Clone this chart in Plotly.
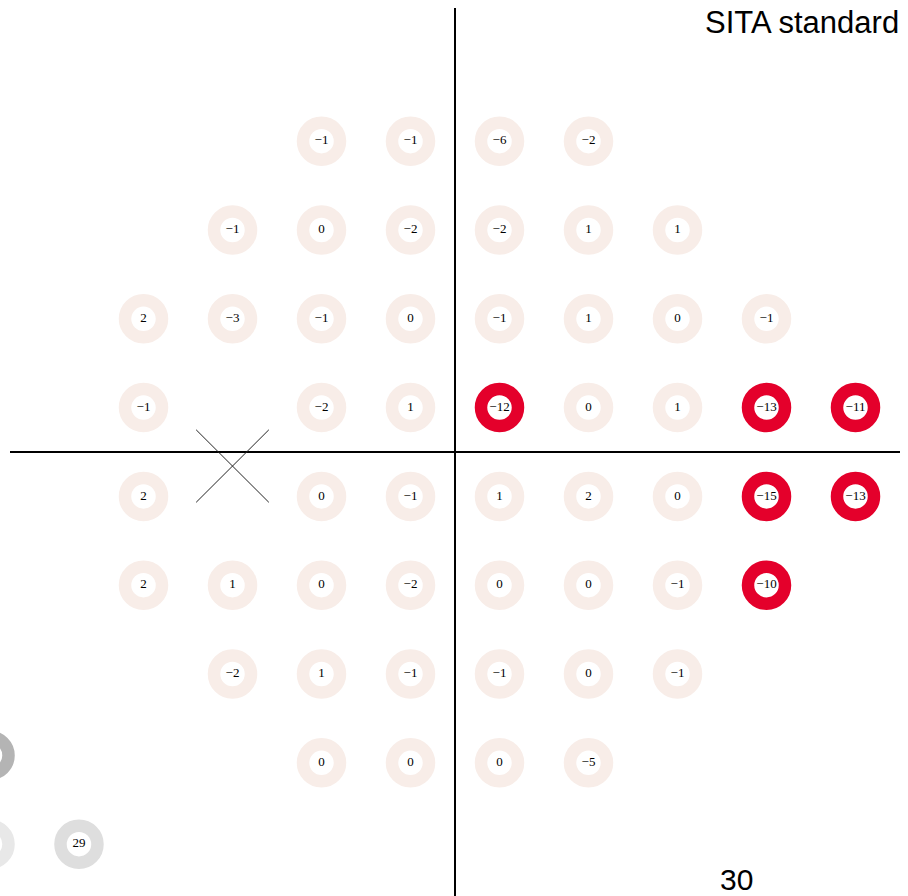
import plotly.graph_objects as go

# Visual field locations (degrees) and total deviation values
xs = [-9, -3, 3, 9,
      -15, -9, -3, 3, 9, 15,
      -21, -15, -9, -3, 3, 9, 15, 21,
      -21, -9, -3, 3, 9, 15, 21, 27,
      -21, -9, -3, 3, 9, 15, 21, 27,
      -21, -15, -9, -3, 3, 9, 15, 21,
      -15, -9, -3, 3, 9, 15,
      -9, -3, 3, 9]
ys = [21, 21, 21, 21,
      15, 15, 15, 15, 15, 15,
      9, 9, 9, 9, 9, 9, 9, 9,
      3, 3, 3, 3, 3, 3, 3, 3,
      -3, -3, -3, -3, -3, -3, -3, -3,
      -9, -9, -9, -9, -9, -9, -9, -9,
      -15, -15, -15, -15, -15, -15,
      -21, -21, -21, -21]
values = [-1, -1, -6, -2,
          -1, 0, -2, -2, 1, 1,
          2, -3, -1, 0, -1, 1, 0, -1,
          -1, -2, 1, -12, 0, 1, -13, -11,
          2, 0, -1, 1, 2, 0, -15, -13,
          2, 1, 0, -2, 0, 0, -1, -10,
          -2, 1, -1, -1, 0, -1,
          0, 0, 0, -5]

# Legend (grey-scale) circles, partly cut off at the lower left
legend_x = [-31.35, -31.35, -25.35]
legend_y = [-20.5, -26.5, -26.5]
legend_labels = ["", "", "29"]
legend_colors = ["#b4b4b4", "#e8e8e8", "#dedede"]

# Blind spot cross
blind_x = -15
blind_y = -0.95
blind_half = 2.45

RED = "#e4002b"
BEIGE = "#f8ede8"

X_RANGE = [-30, 30]
Y_RANGE = [-30, 30]

def fmt(v):
    return str(v).replace("-", "\u2212")

ring_colors = [RED if v <= -10 else BEIGE for v in values]

fig = go.Figure()

# legend circle with visible label (inside axis range)
fig.add_trace(go.Scatter(
    x=legend_x[2:], y=legend_y[2:], mode="markers+text",
    text=legend_labels[2:], textposition="middle center",
    textfont=dict(family="Liberation Serif", size=13, color="black"),
    marker=dict(size=37, color="white", line=dict(width=12.5, color=legend_colors[2:])),
    cliponaxis=False, hoverinfo="skip", showlegend=False,
))

fig.add_trace(go.Scatter(
    x=xs, y=ys, mode="markers+text",
    text=[fmt(v) for v in values], textposition="middle center",
    textfont=dict(family="Liberation Serif", size=13, color="black"),
    marker=dict(size=37, color="white", line=dict(width=12.5, color=ring_colors)),
    cliponaxis=False, hoverinfo="skip", showlegend=False,
))

shapes = [
    dict(type="line", xref="x", yref="y", x0=0, x1=0, y0=-30, y1=30,
         line=dict(color="black", width=2)),
    dict(type="line", xref="x", yref="y", x0=-30, x1=30, y0=0, y1=0,
         line=dict(color="black", width=2)),
    dict(type="line", xref="x", yref="y",
         x0=blind_x - blind_half, x1=blind_x + blind_half,
         y0=blind_y + blind_half, y1=blind_y - blind_half,
         line=dict(color="#222222", width=1)),
    dict(type="line", xref="x", yref="y",
         x0=blind_x - blind_half, x1=blind_x + blind_half,
         y0=blind_y - blind_half, y1=blind_y + blind_half,
         line=dict(color="#222222", width=1)),
]

# legend circles that lie outside the axis range: drawn as paper shapes (not clipped)
R = 1.25  # ring centre-line radius in data units
def to_px(v, rng):
    return (v - rng[0]) / (rng[1] - rng[0])
for lx, ly, lc in zip(legend_x[:2], legend_y[:2], legend_colors[:2]):
    shapes.append(dict(
        type="circle", xref="paper", yref="paper", layer="below",
        x0=to_px(lx - R, X_RANGE), x1=to_px(lx + R, X_RANGE),
        y0=to_px(ly - R, Y_RANGE), y1=to_px(ly + R, Y_RANGE),
        fillcolor="white", line=dict(color=lc, width=12.5),
    ))

fig.update_layout(
    width=908, height=896,
    margin=dict(l=10, r=8, t=8, b=0),
    paper_bgcolor="white", plot_bgcolor="white",
    xaxis=dict(range=X_RANGE, visible=False, fixedrange=True),
    yaxis=dict(range=Y_RANGE, visible=False, fixedrange=True),
    shapes=shapes,
    annotations=[
        dict(x=30, y=29, xref="x", yref="y", text="SITA standard",
             showarrow=False, xanchor="right", yanchor="middle", borderpad=0,
             font=dict(family="Liberation Sans", size=31, color="black")),
        dict(x=19, y=-28.9, xref="x", yref="y", text="30",
             showarrow=False, xanchor="center", yanchor="middle", borderpad=0,
             font=dict(family="Liberation Sans", size=30, color="black")),
    ],
)

fig.write_html("out.html", config={"displayModeBar": False},
               post_script="document.body.style.margin='0';document.body.style.overflow='hidden';")
